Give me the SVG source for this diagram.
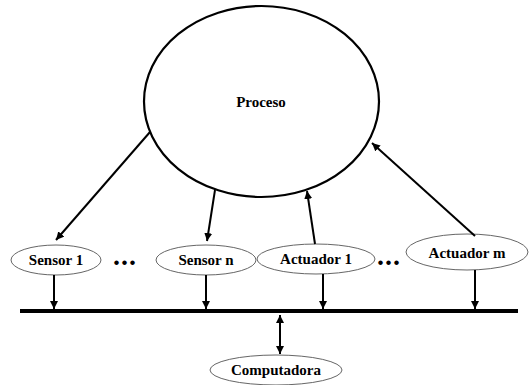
<svg xmlns="http://www.w3.org/2000/svg" width="531" height="385" viewBox="0 0 531 385">
<defs>
<marker id="ah" viewBox="0 0 10 10" refX="10" refY="5" markerWidth="4" markerHeight="4" orient="auto-start-reverse" markerUnits="strokeWidth">
<path d="M0,0 L10,5 L0,10 z" fill="#000"/>
</marker>
<style>
.big{fill:#fff;stroke:#000;stroke-width:2.2}
.sm{fill:#fff;stroke:#666;stroke-width:1}
text{font-family:'Liberation Serif','Times New Roman','DejaVu Serif',serif;font-weight:bold;fill:#000}
.t{font-size:15px;text-anchor:middle}
.c{stroke:#000;stroke-width:2;fill:none;marker-end:url(#ah)}
.dots{font-size:28px;letter-spacing:1px}
</style>
</defs>
<rect width="531" height="385" fill="#fff"/>
<g id="proceso">
<ellipse class="big" cx="261.5" cy="101.5" rx="117.5" ry="95.5"/>
<text class="t" x="261" y="107">Proceso</text>
</g>
<g id="sensor1">
<ellipse class="sm" cx="56" cy="260" rx="45" ry="15"/>
<text class="t" x="56" y="265">Sensor 1</text>
</g>
<g id="sensorn">
<ellipse class="sm" cx="206" cy="260" rx="50" ry="15"/>
<text class="t" x="206" y="265">Sensor n</text>
</g>
<g id="actuador1">
<ellipse class="sm" cx="316" cy="259" rx="59" ry="15"/>
<text class="t" x="316" y="264">Actuador 1</text>
</g>
<g id="actuadorm">
<ellipse class="sm" cx="467" cy="252" rx="61" ry="18"/>
<text class="t" x="467" y="258">Actuador m</text>
</g>
<g id="computadora">
<ellipse class="sm" cx="276" cy="370" rx="66" ry="15"/>
<text class="t" x="276" y="375">Computadora</text>
</g>
<g id="dots">
<text class="dots" x="113" y="265">...</text>
<text class="dots" x="377" y="265">...</text>
</g>
<g id="bus">
<line x1="20" y1="311" x2="518" y2="311" stroke="#000" stroke-width="4"/>
</g>
<g id="connectors">
<line class="c" x1="150" y1="132" x2="56" y2="240"/>
<line class="c" x1="215" y1="190" x2="207" y2="241"/>
<line class="c" x1="315" y1="244" x2="307" y2="191"/>
<line class="c" x1="475" y1="236" x2="372" y2="143"/>
<line class="c" x1="54" y1="275" x2="54" y2="309"/>
<line class="c" x1="206" y1="275" x2="206" y2="309"/>
<line class="c" x1="323" y1="274" x2="323" y2="309"/>
<line class="c" x1="475" y1="270" x2="475" y2="309"/>
<line class="c" x1="280" y1="315" x2="280" y2="354" style="marker-start:url(#ah)"/>
</g>
</svg>
